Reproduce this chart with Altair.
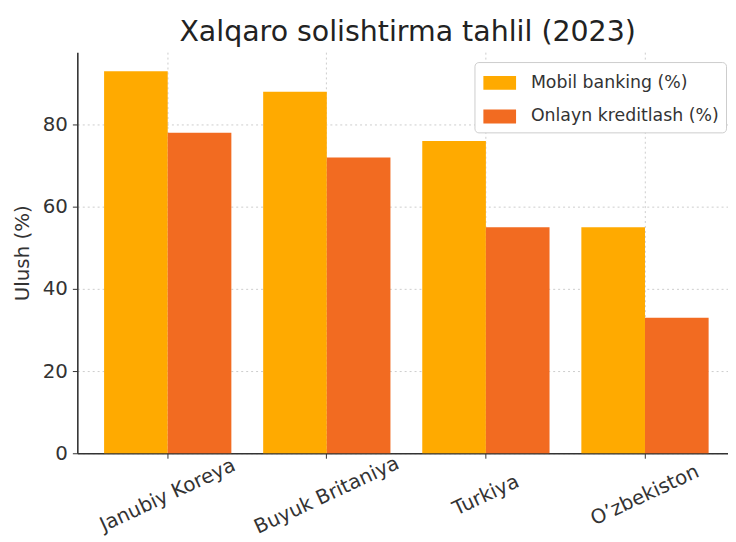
import altair as alt
import pandas as pd

countries = ["Janubiy Koreya", "Buyuk Britaniya", "Turkiya", "O’zbekiston"]
mobile = [93, 88, 76, 55]
credit = [78, 72, 55, 33]
series = ["Mobil banking (%)", "Onlayn kreditlash (%)"]
colors = ["#FFAA00", "#F26B21"]
y_ticks = [0, 20, 40, 60, 80]

rows = []
for c, m, k in zip(countries, mobile, credit):
    rows.append({"Davlat": c, "Seriya": series[0], "Qiymat": m})
    rows.append({"Davlat": c, "Seriya": series[1], "Qiymat": k})
df = pd.DataFrame(rows)

font = "DejaVu Sans"

chart = alt.Chart(df).mark_bar().encode(
    x=alt.X(
        "Davlat:N", sort=countries, title=None,
        scale=alt.Scale(paddingInner=0.2, paddingOuter=0.145, align=0.58),
        axis=alt.Axis(
            labelAngle=-25, labelAlign="center", labelBaseline="middle",
            labelPadding=37, tickSize=5, grid=True, gridDash=[2, 3],
            gridColor="#cccccc", bandPosition=0.5, labelFontSize=20,
            labelColor="#333333", domainColor="#333333", tickColor="#333333",
            labelFont=font, domainWidth=1.6,
        ),
    ),
    xOffset=alt.XOffset("Seriya:N", sort=series),
    y=alt.Y(
        "Qiymat:Q", title="Ulush (%)",
        scale=alt.Scale(domain=[0, 97.65], nice=False),
        axis=alt.Axis(
            values=y_ticks, grid=True, gridDash=[2, 3], gridColor="#cccccc",
            tickSize=5, labelPadding=5, labelFontSize=20, labelColor="#333333",
            domainColor="#333333", tickColor="#333333", labelFont=font,
            titleFont=font, titleFontSize=20, titleFontWeight="normal",
            titleColor="#333333", titlePadding=10, domainWidth=1.6,
        ),
    ),
    color=alt.Color(
        "Seriya:N", sort=series,
        scale=alt.Scale(domain=series, range=colors),
        legend=alt.Legend(
            title=None, orient="none", legendX=401, legendY=10,
            symbolType="M-0.857,-0.5H1.5V0.5H-0.857Z", symbolSize=784,
            symbolStrokeWidth=0, labelOffset=22, rowPadding=11, padding=7,
            labelFontSize=17.5, labelFont=font, labelColor="#333333",
            labelLimit=0,
            fillColor="white", strokeColor="#cccccc", cornerRadius=4,
        ),
    ),
).properties(
    width=657, height=405,
    title=alt.TitleParams(
        "Xalqaro solishtirma tahlil (2023)", font=font, fontSize=28.7,
        fontWeight="normal", color="#222222", offset=6, anchor="middle", dx=5,
    ),
    padding={"left": 4, "top": 7, "right": 0, "bottom": 0},
).configure_view(stroke=None)

chart.save("out.html", embed_options={"renderer": "svg", "actions": False})
